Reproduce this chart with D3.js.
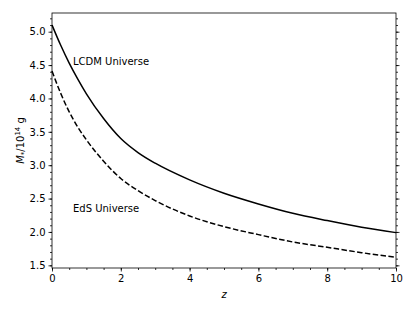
<!DOCTYPE html>
<html>
<head>
<meta charset="utf-8">
<script src="https://cdn.jsdelivr.net/npm/d3@7"></script>
<style>
  body { margin: 0; background: #fff; }
  text { font-family: "DejaVu Sans", sans-serif; }
</style>
</head>
<body>
<div id="chart"></div>
<script>
// redshift grid and the two mass curves
const zValues = [0, 0.25, 0.5, 0.75, 1, 1.5, 2, 2.5, 3, 4, 5, 6, 7, 8, 9, 10];
const lcdmMass = [5.10, 4.80, 4.53, 4.29, 4.07, 3.70, 3.40, 3.19, 3.03, 2.78, 2.58, 2.42, 2.28, 2.17, 2.07, 1.99];
const edsMass  = [4.41, 4.08, 3.80, 3.57, 3.38, 3.06, 2.80, 2.62, 2.47, 2.24, 2.08, 1.96, 1.85, 1.77, 1.69, 1.62];
const xTicks = [0, 2, 4, 6, 8, 10];
const yTicks = [1.5, 2.0, 2.5, 3.0, 3.5, 4.0, 4.5, 5.0];

const W = 415, H = 311;
const margin = {top: 13, right: 19, bottom: 43, left: 52};
const width = W - margin.left - margin.right;
const height = H - margin.top - margin.bottom;

const svg = d3.select("#chart").append("svg")
    .attr("width", W)
    .attr("height", H);

const g = svg.append("g")
    .attr("transform", "translate(" + margin.left + "," + margin.top + ")");

const x = d3.scaleLinear().domain([0, 10]).range([0, width]);
const y = d3.scaleLinear().domain([1.46, 5.28]).range([height, 0]);

// minor ticks
const xMinor = d3.range(0, 10.001, 0.5);
const yMinor = d3.range(1.5, 5.28, 0.1);

function styleAxis(sel) {
    sel.select(".domain").remove();
    sel.selectAll("line").attr("stroke", "#000").attr("stroke-width", 0.8);
    sel.selectAll("text").attr("font-size", 10).attr("fill", "#000");
}

g.append("g").attr("transform", "translate(0," + height + ")")
    .call(d3.axisBottom(x).tickValues(xMinor).tickSize(2).tickFormat(""))
    .call(styleAxis);
g.append("g").attr("transform", "translate(0," + height + ")")
    .call(d3.axisBottom(x).tickValues(xTicks).tickSize(3.5).tickPadding(3).tickFormat(d3.format("d")))
    .call(styleAxis);

g.append("g")
    .call(d3.axisLeft(y).tickValues(yMinor).tickSize(2).tickFormat(""))
    .call(styleAxis);
g.append("g")
    .call(d3.axisLeft(y).tickValues(yTicks).tickSize(3.5).tickPadding(3).tickFormat(d3.format(".1f")))
    .call(styleAxis);

g.append("g").attr("transform", "translate(" + width + ",0)")
    .call(d3.axisRight(y).tickValues(yMinor).tickSize(2).tickFormat(""))
    .call(styleAxis);
g.append("g").attr("transform", "translate(" + width + ",0)")
    .call(d3.axisRight(y).tickValues(yTicks).tickSize(3.5).tickFormat(""))
    .call(styleAxis);

// frame
g.append("rect")
    .attr("width", width)
    .attr("height", height)
    .attr("fill", "none")
    .attr("stroke", "#000")
    .attr("stroke-width", 0.8);

const line = d3.line()
    .x(d => x(d[0]))
    .y(d => y(d[1]))
    .curve(d3.curveMonotoneX);

g.append("path")
    .datum(zValues.map((z, i) => [z, lcdmMass[i]]))
    .attr("d", line)
    .attr("fill", "none")
    .attr("stroke", "#000")
    .attr("stroke-width", 1.5);

g.append("path")
    .datum(zValues.map((z, i) => [z, edsMass[i]]))
    .attr("d", line)
    .attr("fill", "none")
    .attr("stroke", "#000")
    .attr("stroke-width", 1.5)
    .attr("stroke-dasharray", "5.5,2.4");

// curve labels
g.append("text")
    .attr("x", 21).attr("y", 52)
    .attr("font-size", 10)
    .text("LCDM Universe");
g.append("text")
    .attr("x", 21).attr("y", 199)
    .attr("font-size", 10)
    .text("EdS Universe");

// axis titles
svg.append("text")
    .attr("x", margin.left + width / 2)
    .attr("y", 298)
    .attr("text-anchor", "middle")
    .attr("font-size", 10)
    .attr("font-style", "italic")
    .text("z");

const yl = svg.append("text")
    .attr("transform", "translate(24," + (margin.top + height / 2) + ") rotate(-90)")
    .attr("text-anchor", "middle")
    .attr("font-size", 10);
yl.append("tspan").attr("font-style", "italic").text("M");
yl.append("tspan").attr("font-size", 7).attr("dy", 2).attr("font-style", "italic").text("*");
yl.append("tspan").attr("dy", -2).text("/10");
yl.append("tspan").attr("font-size", 7).attr("dy", -4).text("14");
yl.append("tspan").attr("dy", 4).text(" g");
</script>
</body>
</html>
